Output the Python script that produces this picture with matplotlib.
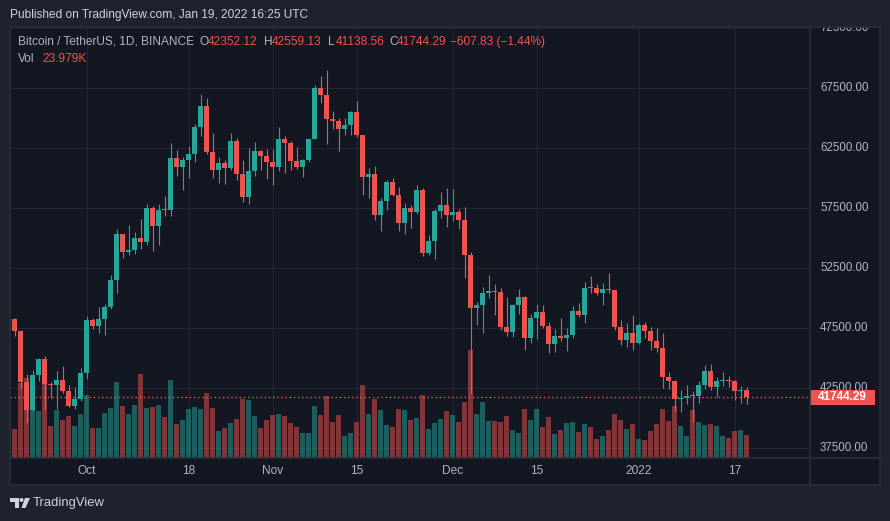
import matplotlib.pyplot as plt
import matplotlib.patches as mpatches
import numpy as np
import pandas as pd

# daily BTC/USDT candles, Sep 18 2021 -> Jan 19 2022
dates = pd.date_range('2021-09-18', '2022-01-19', freq='D')

opens = [47250, 48279, 47260, 42970, 40694, 43574, 44895, 42839, 42717, 43208, 42235, 41034, 41564,
         43790, 48165, 47657, 48233, 49245, 51493, 55340, 53805, 53967, 54968,
         54660, 57471, 56006, 57367, 57348, 61672, 60875, 61528, 62009, 64280,
         66001, 62193, 60688, 61286, 60852, 63078, 60328, 58413, 60575, 62253, 61859,
         61299, 60911, 63219, 62896, 61395, 60937, 61470, 63273, 67525, 66947,
         64882, 64774, 64122, 64380, 65519, 63606, 60058, 60344, 56891, 58052,
         59707, 58622, 56247, 57541, 57138, 58960, 53726, 54721, 57274, 57776,
         56950, 57184, 56480, 53602, 49152, 49396, 50441, 50588, 50471, 47545,
         47140, 49389, 50053, 46702, 48343, 48864, 47632, 46131, 46834, 46681,
         46914, 48889, 48588, 50838, 50820, 50399, 50775, 50701, 47543, 46464, 47120,
         46216, 47722, 47286, 46446, 45833, 43425, 43082, 41566, 41680, 41864,
         41822, 42736, 43946, 42592, 43099, 43177, 43113, 42250, 42352.12]

closes = [48279, 47260, 42970, 40694, 43574, 44895, 42839, 42717, 43208, 42235, 41034, 41564, 43790,
          48165, 47657, 48233, 49245, 51493, 55340, 53805, 53967, 54968, 54660,
          57471, 56006, 57367, 57348, 61672, 60875, 61528, 62009, 64280, 66001,
          62193, 60688, 61286, 60852, 63078, 60328, 58413, 60575, 62253, 61859, 61299,
          60911, 63219, 62896, 61395, 60937, 61470, 63273, 67525, 66947, 64882,
          64774, 64122, 64380, 65519, 63606, 60058, 60344, 56891, 58052, 59707,
          58622, 56247, 57541, 57138, 58960, 53726, 54721, 57274, 57776, 56950,
          57184, 56480, 53602, 49152, 49396, 50441, 50588, 50471, 47545, 47140,
          49389, 50053, 46702, 48343, 48864, 47632, 46131, 46834, 46681, 46914,
          48889, 48588, 50838, 50820, 50399, 50775, 50701, 47543, 46464, 47120, 46216,
          47722, 47286, 46446, 45833, 43425, 43082, 41566, 41680, 41864, 41822,
          42736, 43946, 42592, 43099, 43177, 43113, 42250, 42374, 41744.29]

highs = [48800, 48372, 47347, 43639, 44000, 44978, 45200, 42970, 43950, 44350, 42787, 42590, 44141,
         48495, 48359, 49228, 49529, 51887, 55750, 55338, 56100, 55489, 56561,
         57839, 57680, 57804, 58532, 62933, 62350, 61718, 62695, 64486, 67000,
         66639, 63732, 61747, 61500, 63710, 63293, 61496, 62499, 62980, 62359, 62405,
         62437, 64270, 63500, 63086, 62595, 61560, 63286, 67789, 68524, 69000,
         65600, 65000, 64972, 65550, 66401, 63617, 60840, 60976, 58320, 59845,
         60029, 59266, 57875, 57735, 59398, 59150, 55280, 57445, 58865, 59176,
         59053, 57375, 57600, 53859, 49699, 50891, 51936, 51200, 50797, 50125,
         49485, 50777, 50189, 48700, 49500, 49436, 47995, 47392, 48300, 47537,
         49328, 49576, 51375, 51868, 51207, 51281, 52088, 50704, 48139, 47900, 48548,
         47954, 47990, 47570, 47505, 47070, 43817, 43145, 42300, 42786, 42248,
         43100, 44423, 44500, 43448, 43800, 43478, 43179, 42691, 42559.13]

lows = [47050, 46830, 42500, 39600, 40565, 43069, 40675, 41646, 40750, 42098, 40931, 40753, 41410,
        43283, 47451, 47088, 46891, 49057, 50383, 53357, 53617, 53661, 54080,
        54415, 53879, 54415, 56818, 56850, 60128, 58963, 60000, 61322, 63481,
        62000, 60000, 59562, 59510, 60650, 59817, 58000, 57820, 60174, 60673, 59945,
        59405, 60624, 60382, 60677, 60721, 60050, 61322, 63273, 66222, 62822,
        64100, 62250, 63604, 63577, 63400, 58574, 58373, 56474, 55600, 57353,
        58486, 55610, 55317, 55837, 57000, 53500, 53610, 53256, 56666, 55875,
        56458, 55777, 51680, 42000, 47727, 47100, 50039, 48600, 47320, 46852,
        46751, 48638, 45672, 46290, 46547, 47511, 45456, 45500, 46406, 45558,
        46630, 48421, 47920, 50387, 50236, 49412, 50450, 47313, 46096, 45900, 45678,
        46208, 46654, 45696, 45501, 42500, 42430, 40610, 40501, 41200, 39650,
        41268, 42447, 42311, 41725, 42645, 42581, 41540, 41250, 41138.56]

# volume in thousands of BTC
volume_k = [31.2, 30.2, 78.1, 83.3, 57.3, 49.0, 79.2, 33.3, 50.0, 39.6, 43.8, 33.3, 45.8,
            65.6, 31.2, 31.2, 46.9, 52.1, 79.2, 54.2, 45.8, 55.2, 87.5,
            52.1, 53.1, 55.2, 42.7, 81.3, 35.4, 39.6, 51.0, 53.1, 51.0,
            67.7, 52.1, 28.1, 31.2, 36.5, 40.6, 61.5, 60.4, 43.8, 31.2, 39.6,
            44.8, 45.8, 43.8, 36.5, 32.3, 26.0, 26.0, 54.2, 44.8, 64.6,
            37.5, 44.8, 22.9, 26.0, 37.5, 76.0, 45.8, 61.5, 50.0, 34.4,
            32.3, 51.0, 50.0, 39.6, 41.7, 65.6, 30.2, 36.5, 40.6, 49.0,
            44.8, 37.5, 58.3, 112.5, 45.8, 58.3, 38.5, 38.5, 37.5, 43.8,
            29.2, 26.0, 51.0, 39.6, 51.0, 32.3, 42.7, 25.0, 29.2, 36.5,
            37.5, 27.1, 35.4, 32.3, 19.8, 22.9, 29.2, 45.8, 39.6, 30.2, 35.4,
            19.8, 18.8, 28.1, 35.4, 51.0, 38.5, 54.2, 33.3, 22.9, 50.0,
            37.5, 34.4, 35.4, 33.3, 22.9, 20.8, 28.1, 29.2, 23.979]

tick_dates = ['2021-10-01', '2021-10-18', '2021-11-01', '2021-11-15',
              '2021-12-01', '2021-12-15', '2022-01-01', '2022-01-17']
tick_labels = ['Oct', '18', 'Nov', '15', 'Dec', '15', '2022', '17']
price_ticks = [37500, 42500, 47500, 52500, 57500, 62500, 67500, 72500]
last_price = 41744.29

GREEN = '#26a69a'
RED = '#ef5350'
BG = '#131722'
OUTER = '#1e222d'
GRID = '#232733'
BORDER = '#2a2e39'
TEXT = '#b2b5be'

plt.rcParams['font.family'] = ['Liberation Sans', 'DejaVu Sans']

W, H = 890, 521


def fx(px):
    return px / W


def fy(py):
    return 1 - py / H


fig = plt.figure(figsize=(8.9, 5.21), dpi=100, facecolor=OUTER)

# panel background
fig.patches.append(mpatches.Rectangle((fx(10), fy(485)), fx(870), (485 - 27) / H, transform=fig.transFigure,
                                      facecolor=BG, edgecolor='none', zorder=-2))

ax = fig.add_axes([fx(10), fy(458), 800 / W, 431 / H])
ax.set_facecolor(BG)
for s in ax.spines.values():
    s.set_visible(False)

x = (dates - pd.Timestamp('2021-09-19')).days.values
o = np.array(opens)
c = np.array(closes)
up = c >= o
colors = np.where(up, GREEN, RED)

# volume, scaled into the bottom of the price pane
VOL_TOP = 449
ax.bar(x, np.array(volume_k) / VOL_TOP, width=0.83, bottom=0, color=colors, alpha=0.5,
       linewidth=0, transform=ax.get_xaxis_transform(), zorder=1)

ax.axhline(last_price, color=RED, lw=1, ls=(0, (1, 2)), zorder=2)

# candles
ax.vlines(x, lows, highs, colors=colors, lw=0.8, zorder=3)
body_bottom = np.minimum(o, c)
body_h = np.maximum(np.abs(c - o), 80)
ax.bar(x, body_h, bottom=body_bottom, width=0.83, color=colors, linewidth=0, zorder=4)

ax.set_xlim(-0.75, 132.58)
ax.set_ylim(36667, 72583)

tick_x = (pd.to_datetime(tick_dates) - pd.Timestamp('2021-09-19')).days.values
ax.set_xticks(tick_x)
ax.set_xticklabels(tick_labels)
ax.set_yticks(price_ticks)
ax.set_yticklabels([])
ax.grid(color=GRID, lw=0.8)
ax.set_axisbelow(True)
ax.tick_params(axis='x', length=0, pad=5.2, labelcolor=TEXT, labelsize=8.6)
ax.tick_params(axis='y', length=0)

# price scale
pax = fig.add_axes([fx(810), fy(458), 70 / W, 431 / H], sharey=ax)
pax.set_xlim(0, 70)
pax.axis('off')
for p in price_ticks:
    pax.text(10, p, f'{p:.2f}', color=TEXT, fontsize=8.3, va='center', ha='left',
             clip_on=True, clip_box=pax.bbox)
pax.add_patch(mpatches.Rectangle((0, last_price - 625), 65, 1250, facecolor=RED, edgecolor='none', zorder=3))
pax.text(32.5, last_price, f'{last_price:.2f}', color='white', fontsize=8.5, fontweight='bold',
         ha='center', va='center', zorder=4)

# frame lines
fig.patches.append(mpatches.Rectangle((fx(10), fy(485)), fx(870), (485 - 27) / H, transform=fig.transFigure,
                                      facecolor='none', edgecolor=BORDER, lw=1.2, zorder=5))
fig.lines.append(plt.Line2D([fx(810), fx(810)], [fy(27), fy(485)], transform=fig.transFigure,
                            color=BORDER, lw=1.2, zorder=5))
fig.lines.append(plt.Line2D([fx(10), fx(880)], [fy(458), fy(458)], transform=fig.transFigure,
                            color=BORDER, lw=1.2, zorder=5))

# header and legend
fig.text(fx(10), fy(15), 'Published on TradingView.com, Jan 19, 2022 16:25 UTC', color='#d1d4dc',
         fontsize=8.6, va='center')
fig.text(fx(18), fy(42), 'Bitcoin / TetherUS, 1D, BINANCE', color=TEXT, fontsize=8.6, va='center')
legend_parts = [('O', 200), ('H', 264), ('L', 328), ('C', 389)]
legend_vals = [opens[-1], highs[-1], lows[-1], closes[-1]]
for (k, px), v in zip(legend_parts, legend_vals):
    fig.text(fx(px), fy(42), k, color=TEXT, fontsize=8.6, va='center')
    fig.text(fx(px + 7.5), fy(42), f'{v:.2f}', color=RED, fontsize=8.6, va='center')
fig.text(fx(450), fy(42), '\u2212607.83 (\u22121.44%)', color=RED, fontsize=8.6, va='center')
fig.text(fx(18), fy(59), 'Vol', color=TEXT, fontsize=8.6, va='center')
fig.text(fx(42), fy(59), f'{volume_k[-1]:.3f}K', color=RED, fontsize=8.6, va='center')

# TradingView logo
logo_col = '#d1d4dc'
fig.patches.append(mpatches.Polygon([(fx(10), fy(498)), (fx(19), fy(498)), (fx(19), fy(508)),
                                     (fx(15), fy(508)), (fx(15), fy(502)), (fx(10), fy(502))],
                                    transform=fig.transFigure, facecolor=logo_col, edgecolor='none'))
fig.patches.append(mpatches.Ellipse((fx(21.5), fy(500)), 4 / W, 4 / H, transform=fig.transFigure,
                                    facecolor=logo_col, edgecolor='none'))
fig.patches.append(mpatches.Polygon([(fx(25), fy(498)), (fx(30), fy(498)), (fx(25.5), fy(508)),
                                     (fx(21.5), fy(508))],
                                    transform=fig.transFigure, facecolor=logo_col, edgecolor='none'))
fig.text(fx(33), fy(503), 'TradingView', color=logo_col, fontsize=9.4, va='center')

fig.savefig('out.png', dpi=100, facecolor=OUTER)
